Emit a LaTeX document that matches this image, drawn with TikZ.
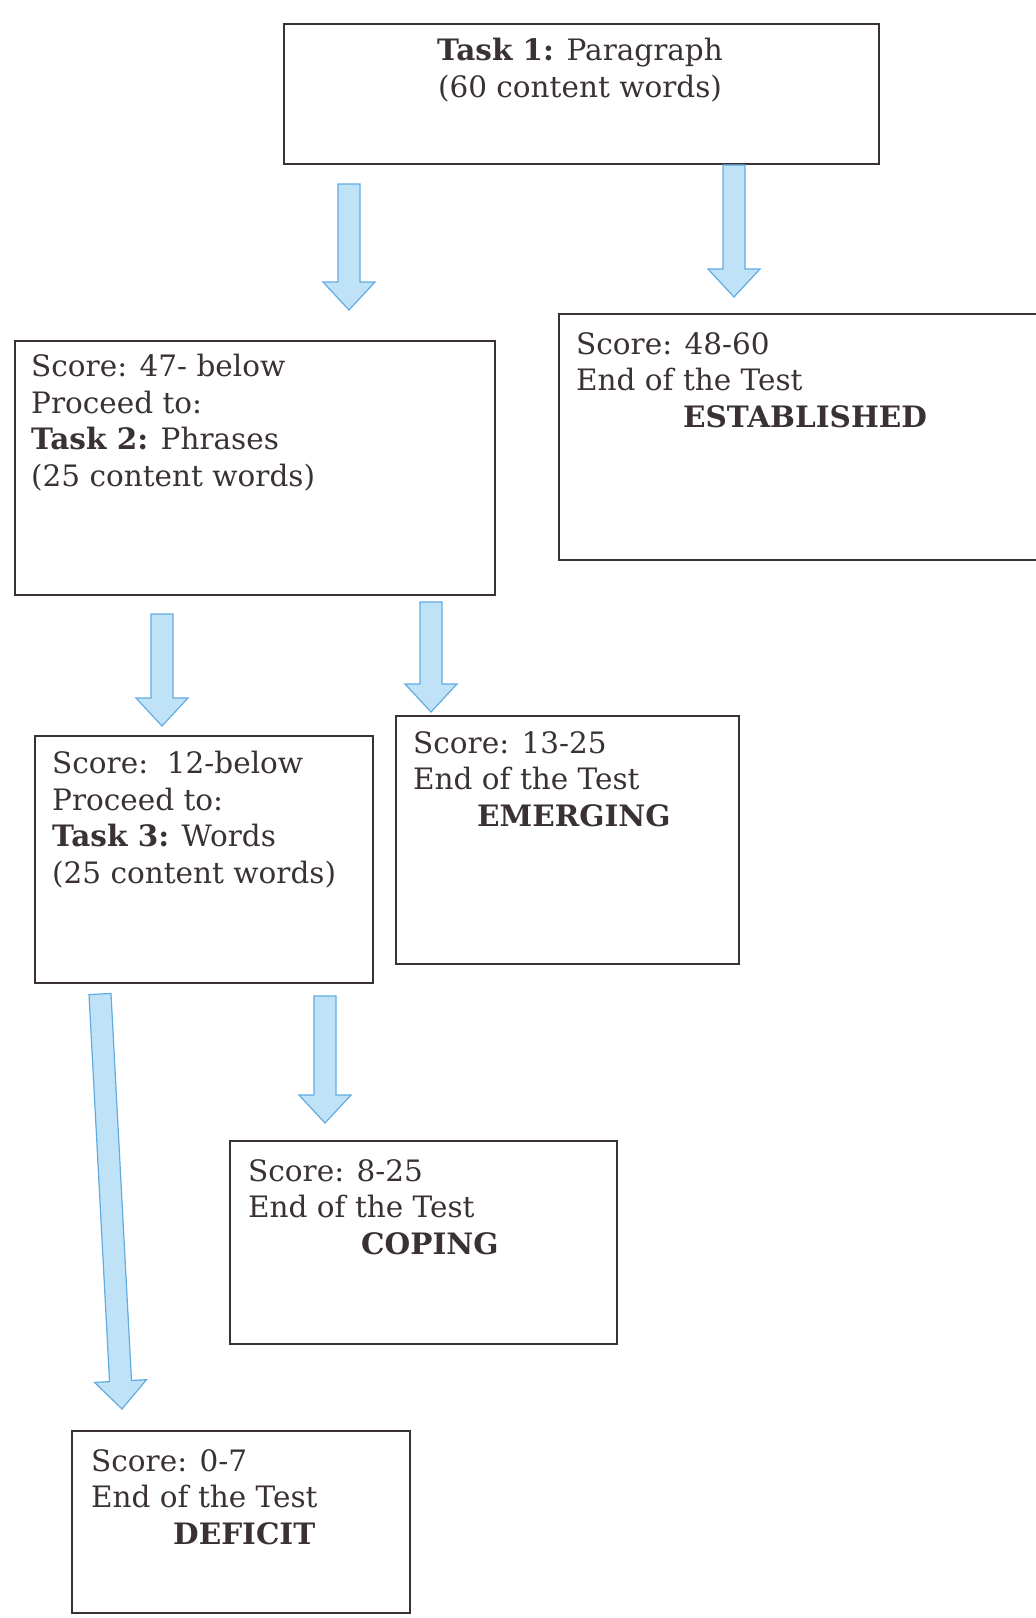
\documentclass[tikz,border=0pt]{standalone}
\usepackage{fontspec}
\setmainfont{DejaVu Serif}
\usetikzlibrary{calc, positioning}
\definecolor{ink}{RGB}{58,50,50}
\definecolor{arrfill}{RGB}{192,226,247}
\definecolor{arredge}{RGB}{96,172,226}

% block arrow from #1 down to #2
\newcommand{\flowarrow}[2]{%
  \coordinate (hd) at ($(#2)!28pt!(#1)$);
  \draw[blockarr] ($(#1)!11pt!90:(#2)$) -- ($(hd)!11pt!90:(#2)$) -- ($(hd)!26pt!90:(#2)$)
    -- (#2) -- ($(hd)!26pt!-90:(#2)$) -- ($(hd)!11pt!-90:(#2)$) -- ($(#1)!11pt!-90:(#2)$) -- cycle;}

\begin{document}
\begin{tikzpicture}[x=1pt, y=-1pt,
  box/.style={draw=ink, line width=1.8pt, rectangle, inner sep=0pt},
  txt/.style={text=ink, inner sep=0pt, align=left, anchor=north west,
    font=\fontsize{29.5}{36.5}\selectfont},
  blockarr/.style={draw=arredge, fill=arrfill, line width=1.2pt, line join=miter}]
  \useasboundingbox (0,0) rectangle (1036,1618);

  % boxes
  \node[box, minimum width=595pt, minimum height=140pt] (par) at (581.5,94) {};
  \node[box, minimum width=480pt, minimum height=254pt] (phr) at (255,468) {};
  \node[box, minimum width=486pt, minimum height=246pt] (est) at (802,437) {};
  \node[box, minimum width=338pt, minimum height=247pt] (wrd) at (204,859.5) {};
  \node[box, minimum width=343pt, minimum height=248pt] (emg) at (567.5,840) {};
  \node[box, minimum width=387pt, minimum height=203pt] (cop) at (423.5,1242.5) {};
  \node[box, minimum width=338pt, minimum height=182pt] (dfc) at (241,1522) {};

  % texts
  \node[txt, align=center, anchor=north] (partxt) at (580,38)
    {\textbf{Task 1:} Paragraph\\(60 content words)};
  \node[txt] (phrtxt) at (31,354)
    {Score: 47- below\\Proceed to:\\\textbf{Task 2:} Phrases\\(25 content words)};
  \node[txt] (esttxt) at (576,332)
    {Score: 48-60\\End of the Test\\\hspace*{107pt}\textbf{ESTABLISHED}};
  \node[txt] (wrdtxt) at (52,751)
    {Score:\ \ 12-below\\Proceed to:\\\textbf{Task 3:} Words\\(25 content words)};
  \node[txt] (emgtxt) at (413,731)
    {Score: 13-25\\End of the Test\\\hspace*{64pt}\textbf{EMERGING}};
  \node[txt] (coptxt) at (248,1159)
    {Score: 8-25\\End of the Test\\\hspace*{113pt}\textbf{COPING}};
  \node[txt] (dfctxt) at (91,1449)
    {Score: 0-7\\End of the Test\\\hspace*{82pt}\textbf{DEFICIT}};

  % arrows
  \coordinate (s1) at (349,184);  \coordinate (e1) at (349,310);
  \coordinate (s2) at (734,165);  \coordinate (e2) at (734,297);
  \coordinate (s3) at (162,614);  \coordinate (e3) at (162,726);
  \coordinate (s4) at (431,602);  \coordinate (e4) at (431,712);
  \coordinate (s5) at (100,994);  \coordinate (e5) at (122,1409);
  \coordinate (s6) at (325,996);  \coordinate (e6) at (325,1123);
  \flowarrow{s1}{e1}
  \flowarrow{s2}{e2}
  \flowarrow{s3}{e3}
  \flowarrow{s4}{e4}
  \flowarrow{s5}{e5}
  \flowarrow{s6}{e6}
\end{tikzpicture}
\end{document}
